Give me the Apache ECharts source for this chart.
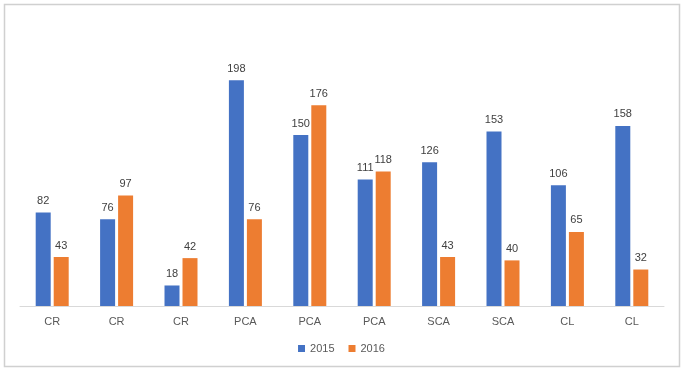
<!DOCTYPE html>
<html>
<head>
<meta charset="utf-8">
<script src="https://cdn.jsdelivr.net/npm/echarts@6/dist/echarts.min.js"></script>
<style>
  html, body { margin: 0; padding: 0; background: #fff; }
  #show_picture { width: 683px; height: 371px; }
</style>
</head>
<body>
<div id="show_picture"></div>
<script>
const categories = ['CR', 'CR', 'CR', 'PCA', 'PCA', 'PCA', 'SCA', 'SCA', 'CL', 'CL'];
const values2015 = [82, 76, 18, 198, 150, 111, 126, 153, 106, 158];
const values2016 = [43, 97, 42, 76, 176, 118, 43, 40, 65, 32];

let myChart = echarts.init(document.getElementById('show_picture'));

const labelStyle = {
    show: true,
    position: 'top',
    distance: 6,
    color: '#404040',
    fontSize: 11,
    fontFamily: 'Liberation Sans'
};

let option = {
    animation: false,
    textStyle: { fontFamily: 'Liberation Sans' },
    graphic: [{
        type: 'rect',
        shape: { x: 4.5, y: 4.5, width: 675, height: 362 },
        style: { fill: 'none', stroke: '#d0d0d0', lineWidth: 1.5 }
    }],
    grid: { left: 20, right: 19, top: 78, bottom: 65 },
    legend: {
        bottom: 12,
        left: 'center',
        icon: 'rect',
        itemWidth: 7,
        itemHeight: 7,
        itemGap: 14,
        textStyle: { color: '#595959', fontSize: 11 },
        data: ['2015', '2016']
    },
    xAxis: {
        type: 'category',
        data: categories,
        axisLine: { lineStyle: { color: '#d9d9d9' } },
        axisTick: { show: false },
        axisLabel: { color: '#595959', fontSize: 11, margin: 10 }
    },
    yAxis: {
        type: 'value',
        min: 0,
        max: 200,
        show: false,
        splitLine: { show: false }
    },
    series: [
        {
            name: '2015',
            type: 'bar',
            data: values2015,
            barWidth: 15,
            barGap: '20%',
            itemStyle: { color: '#4472c4' },
            label: labelStyle
        },
        {
            name: '2016',
            type: 'bar',
            data: values2016,
            barWidth: 15,
            itemStyle: { color: '#ed7d31' },
            label: labelStyle
        }
    ]
};

option && myChart.setOption(option);
</script>
</body>
</html>
